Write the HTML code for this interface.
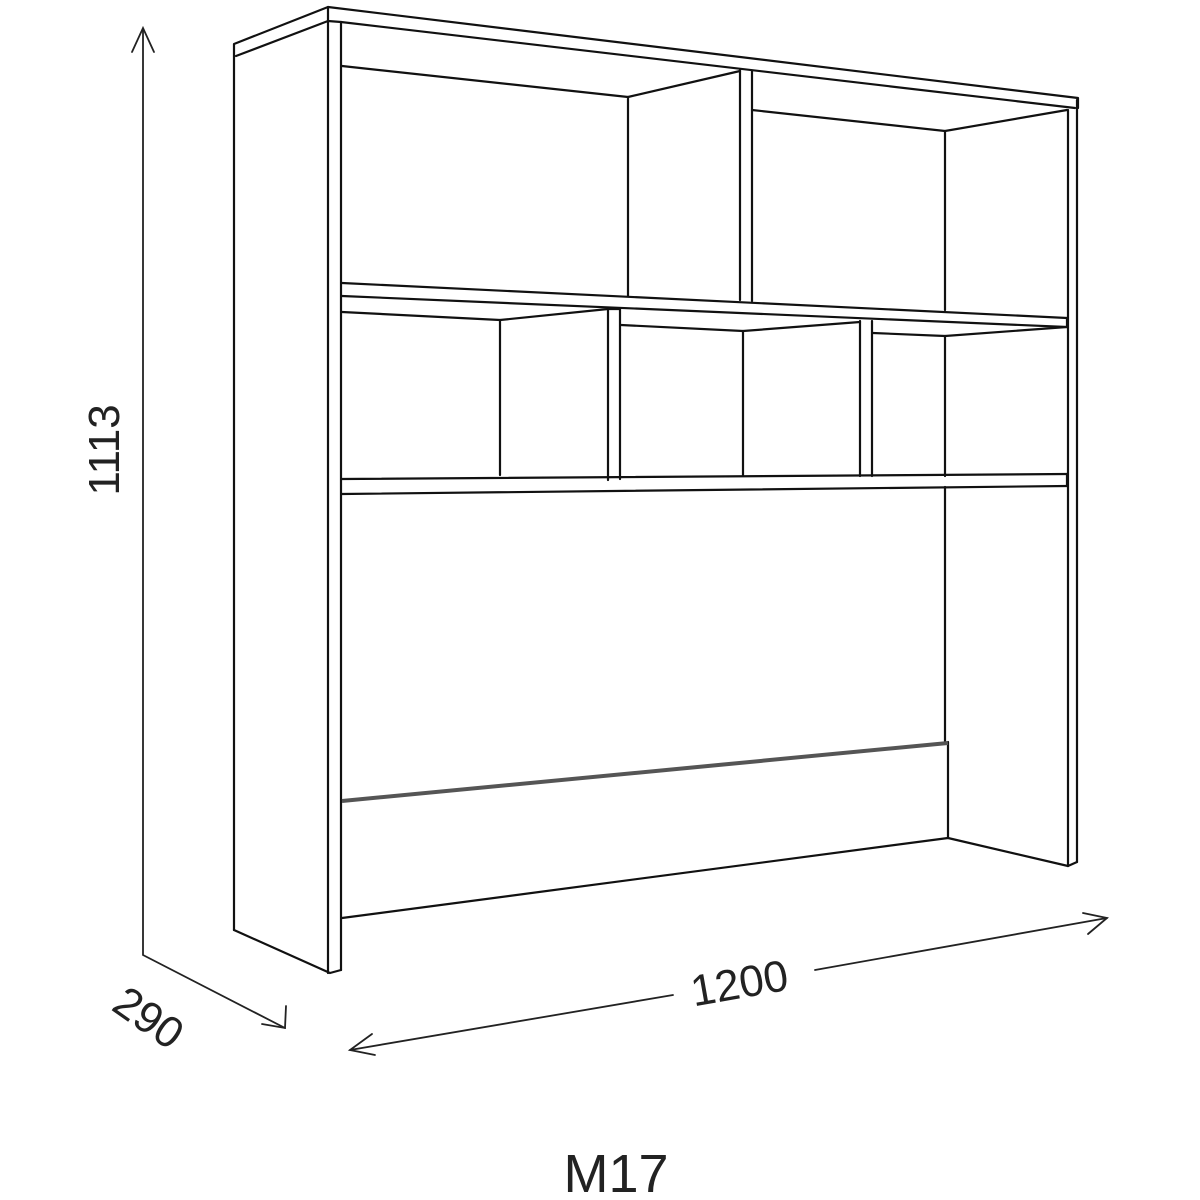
<!DOCTYPE html>
<html><head><meta charset="utf-8"><style>html,body{margin:0;padding:0;background:#fff}svg{display:block}</style></head>
<body>
<svg width="1200" height="1200" viewBox="0 0 1200 1200" xmlns="http://www.w3.org/2000/svg">
<g fill="none" stroke="#111" stroke-width="2.2" stroke-linejoin="round" stroke-linecap="round">
<polyline points="234,930 234,44 328,7 1078,98 1078,108"/>
<polyline points="236,56 328,21 341,22 1075,108"/>
<line x1="328" y1="7" x2="328" y2="973"/>
<line x1="341" y1="22" x2="341" y2="970"/>
<polyline points="234,930 330,973 341,970"/>
<line x1="1068" y1="110" x2="1068" y2="866"/>
<line x1="1077" y1="100" x2="1077" y2="862"/>
<polyline points="1068,866 1077,862"/>
<polyline points="342,66 628,97 628,296"/>
<line x1="628" y1="97" x2="740" y2="71"/>
<line x1="740" y1="70" x2="740" y2="300"/>
<line x1="752" y1="71" x2="752" y2="301"/>
<polyline points="752,110 945,131 1067,110"/>
<line x1="945" y1="131" x2="945" y2="310"/>
<line x1="342" y1="283" x2="1067" y2="318"/>
<line x1="342" y1="296" x2="1067" y2="327"/>
<line x1="1067" y1="318" x2="1067" y2="327"/>
<polyline points="342,312 500,320 608,309"/>
<line x1="500" y1="320" x2="500" y2="475"/>
<line x1="608" y1="309" x2="608" y2="480"/>
<line x1="620" y1="309" x2="620" y2="479"/>
<line x1="608" y1="309" x2="620" y2="309"/>
<polyline points="621,325 743,331 860,322"/>
<line x1="743" y1="331" x2="743" y2="475"/>
<line x1="860" y1="321" x2="860" y2="476"/>
<line x1="872" y1="321" x2="872" y2="476"/>
<polyline points="873,333 945,336 1067,327"/>
<line x1="945" y1="336" x2="945" y2="476"/>
<line x1="342" y1="479" x2="1067" y2="474"/>
<line x1="342" y1="494" x2="1067" y2="486"/>
<line x1="1067" y1="474" x2="1067" y2="486"/>
<line x1="945" y1="487" x2="945" y2="742"/>
<line x1="948" y1="742" x2="948" y2="838"/>
<line x1="342" y1="918" x2="948" y2="838"/>
<line x1="948" y1="838" x2="1068" y2="866"/>
</g>
<line x1="342" y1="801" x2="948" y2="743" stroke="#555" stroke-width="4"/>
<g fill="none" stroke="#222" stroke-width="1.8" stroke-linecap="round">
<polyline points="143,30 143,955 285,1028"/>
<polyline points="132,52 143,28 154,52"/>
<polyline points="286,1006 285,1028 262,1024"/>
<line x1="350" y1="1050" x2="673" y2="995"/>
<line x1="815" y1="970" x2="1107" y2="918"/>
<polyline points="372,1034 350,1050 375,1055"/>
<polyline points="1083,913 1107,918 1088,934"/>
</g>
<g font-family="Liberation Sans, sans-serif" fill="#222" font-size="44">
<text transform="translate(119,450) rotate(-90)" text-anchor="middle">1113</text>
<text transform="translate(140,1030) rotate(35)" text-anchor="middle">290</text>
<text transform="translate(742,998) rotate(-10)" text-anchor="middle">1200</text>
<text x="616" y="1192" text-anchor="middle" font-size="54">M17</text>
</g>
</svg>
</body></html>
